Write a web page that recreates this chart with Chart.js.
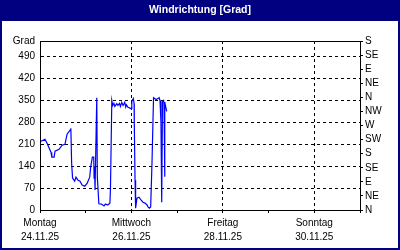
<!DOCTYPE html>
<html>
<head>
<meta charset="utf-8">
<script src="https://cdn.jsdelivr.net/npm/chart.js@4/dist/chart.umd.min.js"></script>
<style>
  body { margin: 0; background: #fff; }
  canvas { display: block; }
</style>
</head>
<body>
<canvas id="windChart" width="400" height="250"></canvas>
<script>
// hours since Montag 24.11.25 00:00
const hours = [0.3, 2.6, 3.7, 5.8, 6.2, 7.4, 7.9, 10.0, 11.6, 13.1, 14.2, 15.8, 16.2, 16.6, 17.1, 18.2, 18.9, 20.0, 21.0, 22.1, 23.5, 24.8,
  26.1, 26.6, 27.5, 28.2, 28.4, 28.6, 28.9, 29.8, 30.1, 30.9, 32.3, 33.6, 34.4, 35.5, 36.7, 37.0, 37.7, 38.2, 38.8, 39.3, 40.3, 40.9,
  41.7, 42.2, 42.9, 43.6, 44.5, 45.0, 45.4, 46.2, 47.8, 48.2, 49.0, 49.4, 49.5, 49.9, 50.2, 50.9, 52.0, 53.0, 54.1, 55.1, 56.2, 56.7,
  57.4, 58.1, 58.8, 59.6, 60.9, 62.0, 62.5, 63.0, 63.5, 63.9, 64.3, 64.9, 65.1, 65.4, 65.6, 66.5];
const direction = [219, 226, 213, 184, 169, 169, 188, 194, 207, 210, 242, 255, 261, 150, 102, 92, 105, 95, 92, 80, 76, 86,
  105, 137, 169, 169, 102, 140, 64, 359, 105, 20, 19, 13, 19, 16, 22, 70, 350, 334, 341, 331, 340, 334,
  341, 331, 344, 334, 344, 329, 336, 328, 324, 348, 356, 340, 277, 95, 6, 38, 41, 32, 25, 22, 16, 10,
  6, 10, 150, 359, 353, 356, 359, 350, 280, 25, 345, 350, 340, 106, 345, 315];

const dayNames = ['Montag', 'Dienstag', 'Mittwoch', 'Donnerstag', 'Freitag', 'Samstag', 'Sonntag', 'Montag'];
const dayDates = ['24.11.25', '25.11.25', '26.11.25', '27.11.25', '28.11.25', '29.11.25', '30.11.25', '01.12.25'];
const gradTicks = [0, 70, 140, 210, 280, 350, 420, 490, 540];
const compassTicks = [0, 45, 90, 135, 180, 225, 270, 315, 360, 405, 450, 495, 540];
const compassLabels = ['N', 'NE', 'E', 'SE', 'S', 'SW', 'W', 'NW', 'N', 'NE', 'E', 'SE', 'S'];

const navy = '#000080';
const tickFont = { family: 'Liberation Sans', size: 10, lineHeight: 1.4 };

const frame = {
  id: 'frame',
  beforeDraw(chart) {
    const ctx = chart.ctx;
    ctx.save();
    ctx.fillStyle = '#fff';
    ctx.fillRect(0, 0, chart.width, chart.height);
    ctx.fillStyle = navy;
    ctx.fillRect(0, 0, chart.width, 21);
    ctx.strokeStyle = navy;
    ctx.lineWidth = 2;
    ctx.strokeRect(1, 1, chart.width - 2, chart.height - 2);
    ctx.restore();
  },
  afterDraw(chart) {
    const a = chart.chartArea;
    const ctx = chart.ctx;
    ctx.save();
    ctx.strokeStyle = '#000';
    ctx.lineWidth = 1;
    ctx.strokeRect(Math.round(a.left) + 0.5, Math.round(a.top) + 0.5,
      Math.round(a.right - a.left), Math.round(a.bottom - a.top));
    ctx.restore();
  }
};

new Chart(document.getElementById('windChart'), {
  type: 'line',
  data: {
    datasets: [
      {
        label: 'Windrichtung',
        data: hours.map((h, i) => ({ x: h, y: direction[i] })),
        borderColor: '#0000ff',
        borderWidth: 1.2,
        pointRadius: 0,
        tension: 0,
        fill: false,
        yAxisID: 'y',
      },
    ],
  },
  options: {
    responsive: false,
    animation: false,
    devicePixelRatio: 1,
    layout: { padding: 0 },
    scales: {
      x: {
        type: 'linear',
        min: 0,
        max: 168,
        afterFit(scale) { scale.height = 40; },
        ticks: {
          stepSize: 24,
          autoSkip: false,
          maxRotation: 0,
          padding: 3,
          color: '#000',
          font: tickFont,
          callback: (v) => {
            const d = Math.round(v / 24);
            return d % 2 === 0 && d < 7 ? [dayNames[d], dayDates[d]] : '';
          },
        },
        grid: {
          color: (c) => (c.tick && Math.round(c.tick.value / 24) % 2 === 0 ? '#000' : 'rgba(0,0,0,0)'),
          tickColor: '#000',
          tickLength: 3,
        },
        border: { color: '#000', dash: [3, 3] },
      },
      y: {
        position: 'left',
        min: 0,
        max: 540,
        afterFit(scale) { scale.width = 40; },
        afterBuildTicks(axis) { axis.ticks = gradTicks.map((v) => ({ value: v })); },
        ticks: {
          autoSkip: false,
          padding: 5,
          color: '#000',
          font: tickFont,
          callback: (v) => (v === 540 ? 'Grad' : v),
        },
        grid: { color: '#000', drawTicks: false },
        border: { color: '#000', dash: [3, 3] },
      },
      y2: {
        position: 'right',
        min: 0,
        max: 540,
        afterFit(scale) { scale.width = 40; },
        afterBuildTicks(axis) { axis.ticks = compassTicks.map((v) => ({ value: v })); },
        ticks: {
          autoSkip: false,
          padding: 2,
          color: '#000',
          font: tickFont,
          callback: (v) => compassLabels[compassTicks.indexOf(v)],
        },
        grid: { drawOnChartArea: false, tickColor: '#000', tickLength: 3 },
        border: { color: '#000' },
      },
    },
    plugins: {
      legend: { display: false },
      tooltip: { enabled: false },
      title: {
        display: true,
        text: 'Windrichtung [Grad]',
        color: '#fff',
        font: { family: 'Liberation Sans', size: 10.5, weight: 'bold', lineHeight: '14px' },
        padding: { top: 3, bottom: 24 },
      },
    },
  },
  plugins: [frame],
});
</script>
</body>
</html>
